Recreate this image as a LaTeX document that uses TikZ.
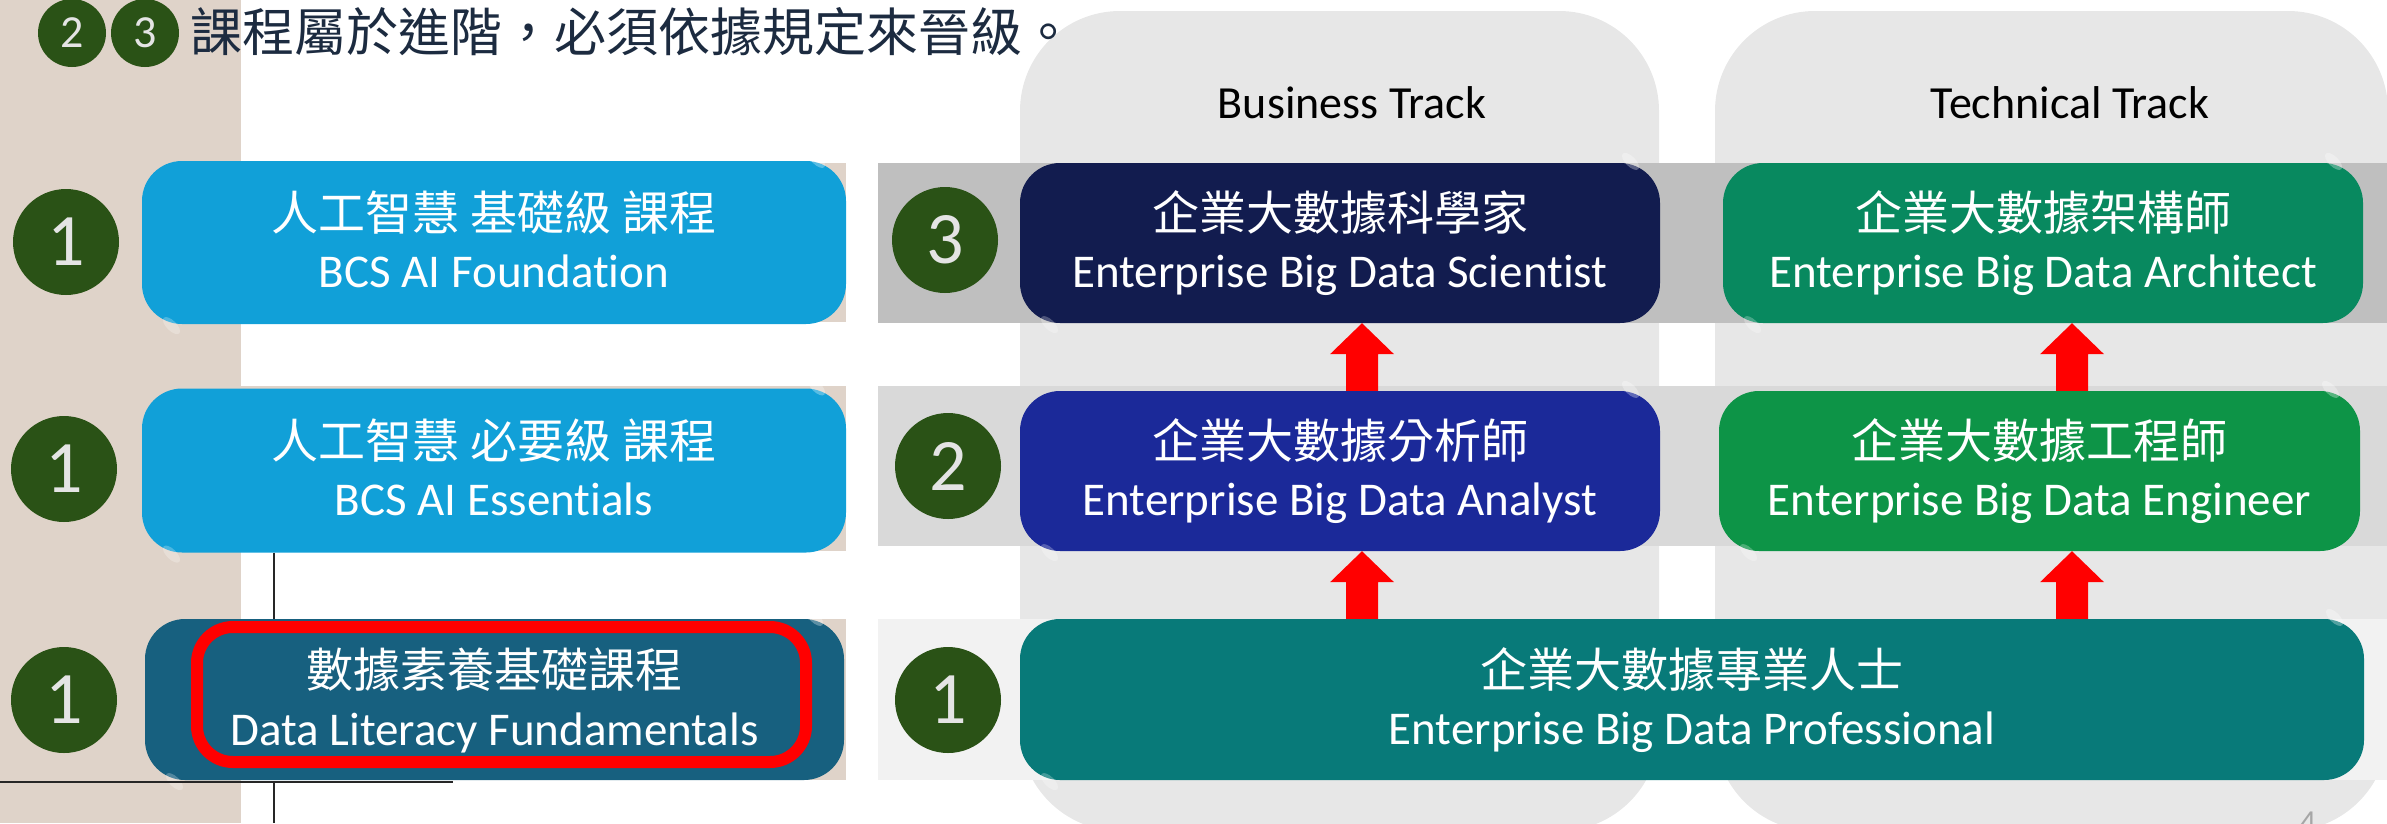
\documentclass[tikz,border=0pt]{standalone}
\usepackage{fontspec}
\setmainfont{Carlito}[Ligatures=NoCommon]
\newfontfamily\cjk{Noto Sans CJK TC}
\usetikzlibrary{calc}
\definecolor{beige}{HTML}{DFD3C9}
\definecolor{trackgray}{HTML}{E7E7E7}
\definecolor{band3}{HTML}{BFBFBF}
\definecolor{band2}{HTML}{D9D9D9}
\definecolor{band1}{HTML}{F2F2F2}
\definecolor{skyblue}{HTML}{11A0D8}
\definecolor{darkteal}{HTML}{17607F}
\definecolor{navy}{HTML}{121C4F}
\definecolor{royal}{HTML}{1B2999}
\definecolor{archgreen}{HTML}{08895F}
\definecolor{enggreen}{HTML}{0D9447}
\definecolor{profteal}{HTML}{087A79}
\definecolor{cgreen}{HTML}{2A5216}
\definecolor{numgray}{HTML}{E4E4E4}
\definecolor{titlecol}{HTML}{1C2B40}
\definecolor{linecol}{HTML}{262626}
\newcommand\myfs[1]{\fontsize{#1}{#1}\selectfont}
\newcommand\glossy[1]{%
  \fill[white, opacity=0.3, rotate around={-45:($(#1.north east)+(-22,20)$)}] ($(#1.north east)+(-22,20)$) ellipse [x radius=11pt, y radius=5pt];
  \fill[white, opacity=0.25, rotate around={-45:($(#1.south west)+(22,-20)$)}] ($(#1.south west)+(22,-20)$) ellipse [x radius=11pt, y radius=5pt];
}
\begin{document}
\begin{tikzpicture}[x=1pt,y=-1pt,
  box/.style={rounded corners=40pt, minimum height=161pt, inner sep=0pt, draw=none},
  cjkline/.style={anchor=base, text=white, font=\cjk\myfs{47}, inner sep=0pt},
  enline/.style={anchor=base, text=white, font=\myfs{47}, inner sep=0pt},
  num/.style={circle, fill=cgreen, minimum size=106pt, inner sep=0pt, text=numgray, font=\myfs{74}},
  smallnum/.style={circle, fill=cgreen, minimum size=68pt, inner sep=0pt, text=numgray, font=\myfs{46}},
  tracklabel/.style={anchor=base, text=black, font=\myfs{46}, inner sep=0pt},
  conn/.style={draw=linecol, line width=2pt}
]
\useasboundingbox (0,0) rectangle (2387,823);
% background strip and bands
\fill[beige] (0,0) rectangle (241,823);
\fill[beige] (0,163) rectangle (846,322);
\fill[beige] (0,386) rectangle (846,551);
\fill[beige] (0,619) rectangle (846,780);
% tracks
\fill[trackgray, rounded corners=100pt] (1020,11) rectangle (1659,831);
\fill[trackgray, rounded corners=100pt] (1715,11) rectangle (2388,831);
% gray bands
\fill[band3] (878,163) rectangle (2387,323);
\fill[band2] (878,386) rectangle (2387,546);
\fill[band1] (878,619) rectangle (2387,780);
% track labels
\node[tracklabel] (btl) at (1352,118) {Business Track};
\node[tracklabel] (ttl) at (2070,118) {Technical Track};
% left boxes
\node[box, fill=skyblue, minimum width=704pt, minimum height=163pt] (b1) at (494,242.5) {};
\node[box, fill=skyblue, minimum width=704pt, minimum height=164pt] (b2) at (494,470.5) {};
\node[box, fill=darkteal, minimum width=699pt] (b3) at (494.5,699.5) {};
% right boxes
\node[box, fill=navy, minimum width=640pt, minimum height=160pt] (sci) at (1340,243) {};
\node[box, fill=royal, minimum width=640pt, minimum height=160pt] (ana) at (1340,471) {};
\node[box, fill=archgreen, minimum width=640pt, minimum height=160pt] (arc) at (2043,243) {};
\node[box, fill=enggreen, minimum width=641pt, minimum height=160pt] (eng) at (2039.5,471) {};
\node[box, fill=profteal, minimum width=1344pt] (pro) at (1692,699.5) {};
\glossy{b1}\glossy{b2}\glossy{b3}\glossy{sci}\glossy{ana}\glossy{arc}\glossy{eng}\glossy{pro}
% texts
\node[cjkline] (b1c) at ($(b1.center)+(0,-12)$) {人工智慧 基礎級 課程};
\node[enline] (b1e) at ($(b1.center)+(0,45)$) {BCS AI Foundation};
\node[cjkline] (b2c) at ($(b2.center)+(0,-12)$) {人工智慧 必要級 課程};
\node[enline] (b2e) at ($(b2.center)+(0,45)$) {BCS AI Essentials};
\node[cjkline] (b3c) at ($(b3.center)+(0,-12)$) {數據素養基礎課程};
\node[enline] (b3e) at ($(b3.center)+(0,46)$) {Data Literacy Fundamentals};
\node[cjkline] (scic) at ($(sci.center)+(0,-13)$) {企業大數據科學家};
\node[enline] (scie) at ($(sci.center)+(0,44)$) {Enterprise Big Data Scientist};
\node[cjkline] (anac) at ($(ana.center)+(0,-13)$) {企業大數據分析師};
\node[enline] (anae) at ($(ana.center)+(0,44)$) {Enterprise Big Data Analyst};
\node[cjkline] (arcc) at ($(arc.center)+(0,-13)$) {企業大數據架構師};
\node[enline] (arce) at ($(arc.center)+(0,44)$) {Enterprise Big Data Architect};
\node[cjkline] (engc) at ($(eng.center)+(0,-13)$) {企業大數據工程師};
\node[enline] (enge) at ($(eng.center)+(0,44)$) {Enterprise Big Data Engineer};
\node[cjkline] (proc) at ($(pro.center)+(0,-12)$) {企業大數據專業人士};
\node[enline] (proe) at ($(pro.center)+(0,45)$) {Enterprise Big Data Professional};
% red highlight
\draw[red, line width=12pt, rounded corners=36pt] (197,627) rectangle (806,762);
% arrows
\coordinate (xb) at (1362,0);
\coordinate (xt) at (2072,0);
\fill[red] let \p1=(sci.south -| xb), \p2=(ana.north -| xb) in
  (\x1,\y1) -- (\x1+32pt,\y1-31pt) -- (\x1+16pt,\y1-31pt) -- (\x1+16pt,\y2) -- (\x1-16pt,\y2) -- (\x1-16pt,\y1-31pt) -- (\x1-32pt,\y1-31pt) -- cycle;
\fill[red] let \p1=(ana.south -| xb), \p2=(pro.north -| xb) in
  (\x1,\y1) -- (\x1+32pt,\y1-31pt) -- (\x1+16pt,\y1-31pt) -- (\x1+16pt,\y2) -- (\x1-16pt,\y2) -- (\x1-16pt,\y1-31pt) -- (\x1-32pt,\y1-31pt) -- cycle;
\fill[red] let \p1=(arc.south -| xt), \p2=(eng.north -| xt) in
  (\x1,\y1) -- (\x1+32pt,\y1-31pt) -- (\x1+16pt,\y1-31pt) -- (\x1+16pt,\y2) -- (\x1-16pt,\y2) -- (\x1-16pt,\y1-31pt) -- (\x1-32pt,\y1-31pt) -- cycle;
\fill[red] let \p1=(eng.south -| xt), \p2=(pro.north -| xt) in
  (\x1,\y1) -- (\x1+32pt,\y1-31pt) -- (\x1+16pt,\y1-31pt) -- (\x1+16pt,\y2) -- (\x1-16pt,\y2) -- (\x1-16pt,\y1-31pt) -- (\x1-32pt,\y1-31pt) -- cycle;
% circles
\node[num] (l3) at (66,242) {1};
\node[num] (l2) at (64,469) {1};
\node[num] (l1) at (64,700) {1};
\node[num] (r3) at (945,240) {3};
\node[num] (r2) at (948,466) {2};
\node[num] (r1) at (948,700) {1};
% connector lines
\coordinate (xl) at (274,0);
\draw[conn] (b2.south -| xl) -- (b3.north -| xl);
\coordinate (hl0) at (0,782);
\coordinate (hl1) at (453,782);
\draw[conn] (hl0) -- (hl1);
\coordinate (vbot) at (274,823);
\draw[conn] (hl0 -| xl) -- (vbot);
% title
\node[smallnum] (t2) at (72,33) {2};
\node[smallnum] (t3) at (145,33) {3};
\node[anchor=base west, inner sep=0pt, text=titlecol, font=\cjk\myfs{52}] (title) at (190,51) {課程屬於進階，必須依據規定來晉級。};
% page number (clipped at the lower edge, as in the reference)
\node[anchor=north, inner sep=0pt, text=gray!70, font=\myfs{32}] (pg) at (2308,812) {4};
\end{tikzpicture}
\end{document}
